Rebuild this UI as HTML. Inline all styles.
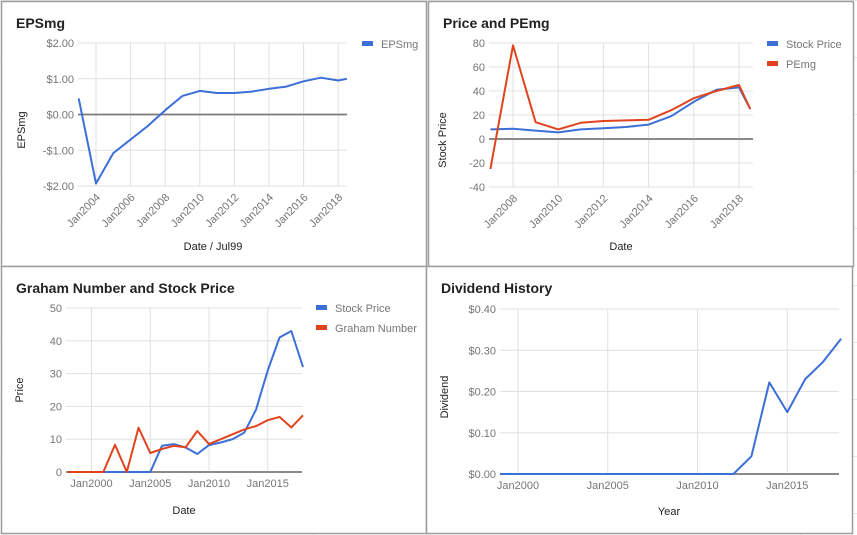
<!DOCTYPE html>
<html><head><meta charset="utf-8"><style>
body{margin:0;background:#fff;width:857px;height:535px;overflow:hidden;font-family:"Liberation Sans",Arial,sans-serif}
svg{display:block}
text{font-family:"Liberation Sans",Arial,sans-serif}
</style></head><body>
<svg id="s" width="857" height="535">
<g id="bg"></g>
</svg>
<script>
// ---- Data ----
const epsYears=[2003,2004,2005,2006,2007,2008,2009,2010,2011,2012,2013,2014,2015,2016,2017,2018,2018.5];
const epsValues=[0.45,-1.93,-1.08,-0.7,-0.32,0.12,0.52,0.66,0.6,0.6,0.64,0.72,0.78,0.93,1.03,0.95,1.0];
const epsTicks=[2,1,0,-1,-2];
const epsTickLabels=["$2.00","$1.00","$0.00","-$1.00","-$2.00"];
const epsXTicks=[2004,2006,2008,2010,2012,2014,2016,2018];

const pYears=[2007,2008,2009,2010,2011,2012,2013,2014,2015,2016,2017,2018,2018.5];
const pStock=[8,8.5,7,5.5,8,9,10,12,19,31,41,43,25];
const pPE=[-25,78,14,8,13.5,15,15.5,16,24,34,40,45,25];
const pTicks=[80,60,40,20,0,-20,-40];
const pXTicks=[2008,2010,2012,2014,2016,2018];

const gYears=[1998,1999,2000,2001,2002,2003,2004,2005,2006,2007,2008,2009,2010,2011,2012,2013,2014,2015,2016,2017,2018];
const gStock=[0,0,0,0,0,0,0,0,8,8.5,7.5,5.5,8.2,9,10,12,19,31,41,43,32];
const gGraham=[0,0,0,0,8.3,0,13.5,5.8,7,8,7.5,12.5,8.5,10,11.5,13,14,15.8,16.8,13.6,17.3];
const gTicks=[50,40,30,20,10,0];
const gXTicks=[2000,2005,2010,2015];

const dYears=[1999,2000,2001,2002,2003,2004,2005,2006,2007,2008,2009,2010,2011,2012,2013,2014,2015,2016,2017,2018];
const dValues=[0,0,0,0,0,0,0,0,0,0,0,0,0,0,0.043,0.222,0.15,0.23,0.272,0.328];
const dTicks=[0.4,0.3,0.2,0.1,0];
const dTickLabels=["$0.40","$0.30","$0.20","$0.10","$0.00"];
const dXTicks=[2000,2005,2010,2015];

const NS="http://www.w3.org/2000/svg";
const svg=document.getElementById('s');
const BLUE="#3c6fd8", RED="#e0431d";
function el(tag,attrs,parent,txt){const e=document.createElementNS(NS,tag);for(const k in attrs)e.setAttribute(k,attrs[k]);if(txt!==undefined)e.textContent=txt;(parent||svg).appendChild(e);return e;}

// faint spreadsheet grid
const bg=document.getElementById('bg');
[0,57,114,171,228,285,342,399,456,513].forEach(y=>el('line',{x1:0,x2:857,y1:y+0.5,y2:y+0.5,stroke:'#e6e6e6'},bg));
[313,800].forEach(x=>el('line',{x1:x+0.5,x2:x+0.5,y1:0,y2:535,stroke:'#e6e6e6'},bg));

function chart(cfg){
  const g=el('g',{});
  
  
  const b=el('rect',{x:cfg.box[0]+0.5,y:cfg.box[1]+0.5,width:cfg.box[2],height:cfg.box[3],fill:'#fff',stroke:'#9e9e9e','stroke-width':1.5},g);
  
  const t=el('text',{x:cfg.box[0]+15,y:cfg.box[1]+27,'font-size':14,'font-weight':'bold',fill:'#222'},g,cfg.title);
  
  const [L,R,T,B]=cfg.plot;
  const ys=v=>B-(v-cfg.ymin)/(cfg.ymax-cfg.ymin)*(B-T);
  const xs=v=>cfg.x0+(v-cfg.xv0)*cfg.xpx;
  // horizontal gridlines and labels
  cfg.yticks.forEach((v,i)=>{
    const y=ys(v);
    const ln=el('line',{x1:L,x2:R,y1:y,y2:y,stroke:v===0?'#7a7a7a':'#e0e0e0','stroke-width':v===0?1.5:1},g);
    
    const lb=el('text',{x:L-4,y:y+4,'text-anchor':'end','font-size':11,fill:'#757575'},g,cfg.ylabels?cfg.ylabels[i]:String(v));
    
  });
  cfg.xticks.forEach(v=>{
    const x=xs(v);
    const ln=el('line',{x1:x,x2:x,y1:T,y2:B,stroke:'#e0e0e0'},g);
    
    let lb;
    if(cfg.rot){
      lb=el('text',{x:x+5,y:B+12,'text-anchor':'end','font-size':11,fill:'#757575',transform:`rotate(-45 ${x+5} ${B+12})`},g,'Jan'+v);
    } else {
      lb=el('text',{x:x,y:B+15,'text-anchor':'middle','font-size':11,fill:'#757575'},g,'Jan'+v);
    }
    
  });
  // redraw zero line on top of vertical grids
  if(cfg.ymin<=0&&cfg.ymax>=0){const z=el('line',{x1:L,x2:R,y1:ys(0),y2:ys(0),stroke:'#7a7a7a','stroke-width':1.5},g);}
  cfg.series.forEach((s,si)=>{
    const pts=s.x.map((xv,i)=>xs(xv).toFixed(1)+','+ys(s.y[i]).toFixed(1)).join(' ');
    const p=el('polyline',{points:pts,fill:'none',stroke:s.color,'stroke-width':2,'stroke-linejoin':'round'},g);
    
    if(cfg.legend){
      const ly=cfg.legend[1]+si*20;
      const sw=el('rect',{x:cfg.legend[0],y:ly-3,width:11,height:5,fill:s.color},g);
      
      const lt=el('text',{x:cfg.legend[0]+19,y:ly+4,'font-size':11,fill:'#757575'},g,s.label);
      
    }
  });
  const yt=el('text',{x:cfg.ytitle[0],y:cfg.ytitle[1],'text-anchor':'middle','font-size':11,fill:'#222',transform:`rotate(-90 ${cfg.ytitle[0]} ${cfg.ytitle[1]})`},g,cfg.ytitleText);
  
  const xt=el('text',{x:cfg.xtitle[0],y:cfg.xtitle[1],'text-anchor':'middle','font-size':11,fill:'#222'},g,cfg.xtitleText);
  
}

chart({name:'epsmg-chart',box:[1,1,425,265],title:'EPSmg',plot:[78,347,43,186],ymin:-2,ymax:2,
  x0:96,xv0:2004,xpx:17.3,yticks:epsTicks,ylabels:epsTickLabels,xticks:epsXTicks,rot:true,
  series:[{key:'epsmg',label:'EPSmg',x:epsYears,y:epsValues,color:BLUE}],legend:[362,44],
  ytitle:[25,130],ytitleText:'EPSmg',xtitle:[213,250],xtitleText:'Date / Jul99'});

chart({name:'price-pemg-chart',box:[428,1,425,265],title:'Price and PEmg',plot:[489,753,43,187],ymin:-40,ymax:80,
  x0:513,xv0:2008,xpx:22.6,yticks:pTicks,xticks:pXTicks,rot:true,
  series:[{key:'stock-price',label:'Stock Price',x:pYears,y:pStock,color:BLUE},{key:'pemg',label:'PEmg',x:pYears,y:pPE,color:RED}],legend:[767,44],
  ytitle:[446,140],ytitleText:'Stock Price',xtitle:[621,250],xtitleText:'Date'});

chart({name:'graham-number-chart',box:[1,266,425,267],title:'Graham Number and Stock Price',plot:[66,302,308,472],ymin:0,ymax:50,
  x0:209,xv0:2010,xpx:11.75,yticks:gTicks,xticks:gXTicks,rot:false,
  series:[{key:'stock-price',label:'Stock Price',x:gYears,y:gStock,color:BLUE},{key:'graham-number',label:'Graham Number',x:gYears,y:gGraham,color:RED}],legend:[316,308],
  ytitle:[23,390],ytitleText:'Price',xtitle:[184,514],xtitleText:'Date'});

chart({name:'dividend-history-chart',box:[426,266,426,267],title:'Dividend History',plot:[500,839,309,474],ymin:0,ymax:0.4,
  x0:518,xv0:2000,xpx:17.95,yticks:dTicks,ylabels:dTickLabels,xticks:dXTicks,rot:false,
  series:[{key:'dividend',label:'Dividend',x:dYears,y:dValues,color:BLUE}],legend:null,
  ytitle:[448,397],ytitleText:'Dividend',xtitle:[669,515],xtitleText:'Year'});
</script>
</body></html>
